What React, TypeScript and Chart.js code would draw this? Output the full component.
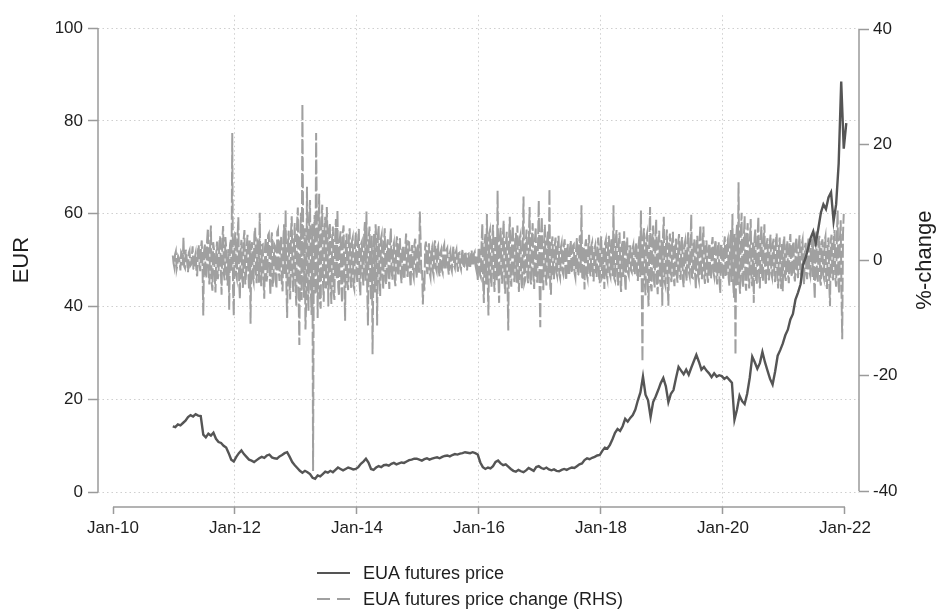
import React, { useEffect, useRef } from 'react';
import { Chart, registerables } from 'chart.js';

Chart.register(...registerables);

// ---- tick labels / axes ----
const xTickYears = [2010, 2012, 2014, 2016, 2018, 2020, 2022];
const xTickLabels = ['Jan-10', 'Jan-12', 'Jan-14', 'Jan-16', 'Jan-18', 'Jan-20', 'Jan-22'];
const leftTicks = [0, 20, 40, 60, 80, 100];
const rightTicks = [-40, -20, 0, 20, 40];

const seriesNames = ['EUA futures price', 'EUA futures price change (RHS)'];

// ---- EUA futures price (EUR), semi-monthly readings starting late Dec 2010 ----
const priceStart = 2010.98;
const priceStep = 1 / 24;
const price2011 = [14.2, 14.0, 14.6, 14.4, 14.9, 15.4, 16.2, 16.6, 16.3, 16.8, 16.5, 16.4, 12.4, 11.8, 12.6, 12.2, 12.8, 11.5, 10.8, 10.6, 10.0, 9.6, 8.4, 7.0];
const price2012 = [6.6, 7.6, 8.4, 9.0, 8.2, 7.6, 7.0, 6.8, 6.5, 6.9, 7.3, 7.6, 7.4, 7.9, 8.1, 7.5, 7.3, 7.2, 7.7, 8.0, 8.4, 8.6, 7.6, 6.5];
const price2013 = [5.8, 5.2, 4.6, 4.2, 4.6, 4.3, 3.9, 3.1, 2.9, 3.6, 3.4, 3.9, 4.4, 4.2, 4.6, 4.3, 4.8, 5.3, 5.0, 4.7, 5.0, 5.3, 5.1, 4.9];
const price2014 = [5.0, 5.4, 6.1, 6.6, 7.2, 6.4, 5.0, 4.8, 5.3, 5.6, 5.4, 5.8, 5.9, 5.7, 6.1, 6.3, 6.0, 6.2, 6.4, 6.3, 6.6, 6.9, 7.0, 7.2];
const price2015 = [7.2, 7.0, 6.8, 7.1, 7.3, 7.0, 7.2, 7.4, 7.5, 7.3, 7.6, 7.8, 7.9, 7.7, 8.0, 8.2, 8.1, 8.3, 8.4, 8.6, 8.5, 8.4, 8.6, 8.4];
const price2016 = [8.1, 6.4, 5.4, 5.0, 5.3, 5.1, 5.6, 6.5, 6.8, 6.2, 5.8, 6.0, 5.5, 5.0, 4.6, 4.4, 4.8, 4.5, 4.3, 4.7, 5.2, 4.9, 4.6, 5.4];
const price2017 = [5.6, 5.2, 5.0, 5.3, 4.9, 4.7, 4.9, 4.6, 4.5, 4.8, 5.0, 4.8, 5.1, 5.3, 5.2, 5.6, 6.0, 6.2, 6.9, 7.3, 7.1, 7.4, 7.6, 7.9];
const price2018 = [8.0, 8.9, 9.6, 9.4, 10.2, 11.4, 12.8, 13.6, 13.2, 14.2, 15.8, 15.2, 16.0, 16.6, 17.8, 19.8, 21.5, 24.9, 21.0, 19.8, 16.2, 19.4, 20.6, 22.0];
const price2019 = [23.5, 24.6, 22.8, 19.4, 21.2, 22.0, 24.6, 27.0, 26.2, 25.4, 26.4, 25.3, 26.8, 28.2, 29.6, 28.1, 26.4, 27.0, 26.2, 25.6, 24.8, 25.6, 24.9, 25.2];
const price2020 = [25.0, 24.4, 24.8, 24.2, 23.6, 15.6, 17.8, 20.8, 19.6, 19.0, 21.2, 24.6, 29.2, 28.0, 26.6, 27.8, 30.2, 28.0, 26.2, 24.4, 23.2, 26.0, 29.4, 30.6];
const price2021 = [32.0, 33.8, 35.0, 37.2, 38.4, 41.5, 43.0, 44.8, 49.0, 50.5, 52.6, 54.8, 56.2, 53.6, 56.8, 60.2, 62.0, 61.0, 63.5, 64.6, 58.4, 62.0, 70.8, 88.5, 74.0, 79.5];

// ---- price change (%), main readings every ~9 days starting late Dec 2010 ----
const changeStart = 2010.98;
const changeStep = 1 / 40;
const change2011a = [0.8, -1.2, 1.5, -0.9, 0.4, -1.8, 1.1, 3.9, -1.4, 0.6, -2.1, 1.7, -0.8, 2.4, -1.6, 1.2, -2.8, 2.6, -1.9, 3.4];
const change2011b = [-9.6, 2.8, -3.1, 5.5, -4.2, 6.0, -5.3, 1.9, -5.6, 3.2, -2.4, 4.1, -6.0, 5.9, -3.5, 2.2, -4.4, -8.6, 3.6, 22.0];
const change2012a = [-9.6, 4.8, -3.2, 7.4, -6.7, 3.5, -4.8, 5.2, -2.6, 4.4, -5.1, -11.0, 3.1, -3.8, 5.6, -4.0, 3.0, 8.2, -4.5, 2.7];
const change2012b = [-6.7, 3.9, -2.8, 4.6, -6.0, 4.8, -3.3, 2.5, -4.9, 5.3, -3.6, 4.0, -5.4, 6.2, 8.6, -10.0, 5.1, -6.8, 7.6, -5.5];
const change2013a = [6.4, -7.9, 9.1, -14.7, 8.2, 27.0, -6.5, -12.0, 12.7, -8.8, 10.4, -9.5, -36.5, 7.8, 22.0, -10.0, 11.5, -8.4, 9.6, -7.2];
const change2013b = [7.5, 9.2, -8.0, 6.4, -7.6, 5.8, -6.9, 7.1, 8.6, -6.2, 5.0, -7.4, 6.0, -10.5, 4.6, -5.2, 5.5, -4.8, 3.9, -5.0];
const change2014a = [4.8, -3.9, 5.4, -6.1, 3.2, -4.4, 6.6, 8.4, -11.3, 5.8, -7.0, -16.3, 4.5, 6.2, -11.3, 5.9, -6.2, 4.4, -5.1, 5.5];
const change2014b = [-4.2, 3.6, -5.0, 5.5, -3.4, 2.9, -4.5, 4.1, -2.7, 3.8, -4.0, 2.4, -3.3, 4.6, -2.9, 3.1, -4.6, 2.6, -3.0, 3.7];
const change2015a = [-3.1, 2.8, 8.4, -2.6, -7.7, -5.3, 3.2, -2.4, 2.9, -3.0, 2.2, -2.6, 3.4, -1.9, 2.5, -2.8, 1.8, -2.2, 2.7, -1.7];
const change2015b = [2.1, -2.5, 1.6, -1.9, 2.4, -1.4, 1.8, -2.0, 1.3, -1.6, 1.9, -1.2, 1.5, -1.8, 1.1, -1.4, 1.7, -1.0, 1.4, -1.6];
const change2016a = [-3.6, 2.2, -3.0, 6.3, -7.4, 4.5, 8.0, -9.6, 5.2, -4.6, 6.1, -5.5, 4.2, 12.0, -7.4, 5.6, -4.1, 6.8, -5.8, 4.9];
const change2016b = [-12.2, 7.5, -4.6, 5.9, -3.8, 4.7, 6.0, -5.5, 4.4, -4.9, 11.0, -3.6, 5.3, -4.0, 9.2, -4.2, 6.4, -5.0, 5.7, -3.9];
const change2017a = [10.3, -11.6, 7.5, -5.2, 6.1, -4.4, 5.0, 12.3, -6.0, 4.1, -3.3, 3.9, -2.7, 4.2, -3.1, 2.9, -2.4, 3.6, -3.5, 2.8];
const change2017b = [-2.6, 3.4, -2.2, 2.7, -3.0, 3.8, -2.5, 4.3, 9.5, -3.4, -5.1, 3.6, -3.2, 4.4, -2.8, 3.1, -3.7, 2.5, -2.9, 3.9];
const change2018a = [-4.0, 4.1, -2.6, -5.0, 3.5, -3.3, 4.2, -2.9, 3.8, 9.5, -3.6, 5.2, -4.4, 4.8, -5.5, 3.3, 5.0, -5.3, 3.9, -2.7];
const change2018b = [2.4, -2.1, 2.6, -2.5, 3.0, -3.6, 4.1, 8.6, -17.6, 5.5, -6.1, 4.6, -8.0, 9.2, -5.4, 6.0, -4.8, 7.0, -5.9, 5.1];
const change2019a = [-4.6, -7.9, 7.5, -4.4, 5.3, -7.9, 4.6, -3.8, 4.9, -4.5, 3.7, -3.9, 4.5, -3.4, 4.0, -4.7, 3.3, -3.6, 4.8, -2.9];
const change2019b = [7.9, -3.1, 3.6, -5.0, 4.2, -3.5, 6.0, -3.3, 5.8, -4.1, 3.4, -3.9, 2.9, -3.2, 4.0, -2.8, 3.5, -4.2, 3.1, -5.7];
const change2020a = [2.6, -3.4, 4.1, -2.7, 3.6, -4.4, 5.2, 8.0, -6.5, -16.4, 6.1, 13.5, -5.8, 8.2, -4.7, 7.6, -5.3, 6.4, -4.9, 7.1];
const change2020b = [-4.5, -7.4, 5.3, -4.1, 7.5, -4.9, 5.8, -3.6, 6.2, -4.3, 3.8, -3.5, 4.4, -3.0, 3.7, -3.8, 4.6, -4.9, 3.9, -5.0];
const change2021a = [-5.4, 4.1, -3.6, 3.3, -4.0, 4.5, -2.9, 3.2, -3.7, 3.9, -3.1, 4.3, -2.6, 3.5, -4.2, 3.0, -3.3, 4.0, -2.7, 3.6];
const change2021b = [4.6, -6.7, 5.1, -3.8, 4.2, -4.4, 3.6, -3.2, 4.1, -5.0, 3.9, -8.0, 4.4, -3.5, 5.2, -4.6, 8.6, -5.8, 6.9, -13.7, 8.0];

// ---- in-between readings (half a step after each main reading) ----
const mid2011a = [-0.5, 1.0, -1.6, 0.7, -0.3, 1.4, -0.9, -1.1, 1.8, -0.6, 1.3, -1.0, 0.9, -1.5, 0.5, -2.0, 1.6, -0.7, 2.2, -1.2];
const mid2011b = [1.5, -2.2, 3.4, -1.8, 2.6, -3.9, 3.1, -2.7, 1.2, -3.3, 2.9, -1.5, 3.6, -2.4, 4.0, -3.0, 1.9, 2.5, -2.1, -4.8];
const mid2012a = [3.0, -2.5, 4.1, -3.6, 1.8, -2.9, 3.7, -4.2, 2.3, -1.7, 3.4, 2.0, -3.1, 4.4, -2.2, 3.3, -3.9, -1.5, 2.6, -3.4];
const mid2012b = [2.2, -3.7, 4.3, -2.1, 3.0, -4.6, 2.8, -3.5, 4.9, -1.9, 3.2, -4.0, 3.6, -2.4, -4.5, 2.9, -3.8, 4.7, -2.6, 3.4];
const mid2013a = [-4.5, 6.2, -5.3, 3.8, -6.9, 4.7, 5.5, -7.1, -3.6, 7.4, -5.0, 6.3, 3.2, -6.0, 5.1, 4.4, -7.3, 6.6, -4.1, 5.8];
const mid2013b = [-4.9, 3.6, 5.1, -4.3, 3.9, -5.6, 4.4, -3.2, -4.7, 3.5, -4.1, 4.8, -3.4, 2.9, -3.8, 4.1, -3.0, 3.3, -4.4, 2.6];
const mid2014a = [-2.5, 3.3, -4.0, 2.8, -2.3, 4.5, -3.6, -4.8, 3.9, -3.0, 4.2, -2.7, -5.6, 3.1, 4.0, -3.4, 3.7, -2.9, 3.2, -3.6];
const mid2014b = [2.6, -2.4, 3.1, -2.0, 2.2, -3.3, 2.7, -1.9, 3.0, -2.5, 1.8, -2.9, 2.4, -2.1, 3.2, -2.6, 1.7, -2.3, 2.8, -1.8];
const mid2015a = [1.9, -2.2, 3.5, -1.7, -3.0, 2.4, -1.5, 2.0, -2.3, 1.6, -1.9, 2.6, -1.4, 2.1, -2.0, 1.3, -1.7, 2.2, -1.2, 1.8];
const mid2015b = [-1.3, 1.1, -1.4, 0.9, -1.0, 1.3, -0.8, 1.2, -1.1, 0.7, -1.3, 0.9, -0.6, 1.0, -1.2, 0.8, -0.7, 1.1, -0.9, 0.6];
const mid2016a = [1.8, -2.6, 2.9, -3.8, 3.1, -4.2, -3.3, 4.6, -3.0, 3.7, -2.8, 4.1, -3.5, -2.9, 3.9, -2.2, 4.4, -3.6, 3.0, -4.0];
const mid2016b = [3.6, -3.1, 4.2, -2.5, 3.4, -3.9, -2.8, 3.8, -3.3, 2.6, -4.1, 3.2, -2.9, 3.7, -3.4, 4.0, -2.6, 3.5, -3.0, 2.8];
const mid2017a = [-4.2, 4.6, -3.5, 3.0, -2.7, 3.6, -3.2, -4.4, 2.9, -2.4, 2.6, -2.1, 2.8, -2.5, 2.2, -1.9, 2.7, -2.3, 2.0, -2.6];
const mid2017b = [2.1, -1.8, 2.5, -2.3, 2.0, -2.6, 3.0, -2.2, -2.9, 2.4, 2.7, -2.5, 2.3, -2.0, 2.6, -2.4, 1.9, -2.1, 2.5, -2.8];
const mid2018a = [2.7, -3.0, 2.2, 2.9, -2.6, 3.1, -2.4, 3.3, -2.8, -3.2, 3.5, -2.7, 3.0, -3.4, 2.5, -2.9, -3.1, 2.8, -2.2, 2.4];
const mid2018b = [-1.8, 2.0, -1.9, 2.2, -2.4, 2.7, -2.9, -3.4, 4.0, -3.7, 3.9, -4.2, 3.6, -4.5, 3.8, -3.3, 4.1, -3.9, 3.4, -3.6];
const mid2019a = [3.5, 4.4, -3.8, 3.2, -3.6, 3.0, -2.9, 3.4, -3.1, 2.8, -2.7, 3.2, -2.5, 3.0, -3.3, 2.6, -2.4, 3.1, -2.2, 2.5];
const mid2019b = [-3.0, 2.6, -2.4, 3.1, -2.8, 3.5, -2.5, 3.3, -2.9, 2.4, -2.7, 2.2, -2.6, 2.8, -2.1, 2.5, -3.0, 2.3, -3.4, 2.7];
const mid2020a = [-2.0, 2.5, -2.9, 3.0, -3.1, 3.6, -3.8, -4.1, 4.5, 3.9, -4.3, -3.6, 4.7, -3.5, 4.2, -3.9, 4.4, -3.2, 3.8, -3.5];
const mid2020b = [3.2, 3.8, -3.4, 4.0, -3.1, 3.5, -2.9, 3.9, -3.3, 2.8, -2.6, 3.1, -2.4, 2.9, -2.7, 3.3, -3.0, 2.6, -3.5, 2.9];
const mid2021a = [3.0, -2.8, 2.5, -2.6, 3.1, -2.2, 2.4, -2.7, 2.9, -2.3, 2.6, -2.0, 2.8, -3.0, 2.2, -2.5, 2.7, -2.1, 2.4, -2.9];
const mid2021b = [-3.3, 3.6, -2.9, 3.1, -3.5, 2.8, -2.6, 3.4, -3.8, 2.9, -4.1, 3.3, -2.7, 3.9, -3.2, 4.4, -4.0, 3.7, -5.2, 4.5];

const priceValues = [
  ...price2011, ...price2012, ...price2013, ...price2014, ...price2015, ...price2016,
  ...price2017, ...price2018, ...price2019, ...price2020, ...price2021,
];
const changeValues = [
  ...change2011a, ...change2011b, ...change2012a, ...change2012b, ...change2013a, ...change2013b,
  ...change2014a, ...change2014b, ...change2015a, ...change2015b, ...change2016a, ...change2016b,
  ...change2017a, ...change2017b, ...change2018a, ...change2018b, ...change2019a, ...change2019b,
  ...change2020a, ...change2020b, ...change2021a, ...change2021b,
];
const midValues = [
  ...mid2011a, ...mid2011b, ...mid2012a, ...mid2012b, ...mid2013a, ...mid2013b,
  ...mid2014a, ...mid2014b, ...mid2015a, ...mid2015b, ...mid2016a, ...mid2016b,
  ...mid2017a, ...mid2017b, ...mid2018a, ...mid2018b, ...mid2019a, ...mid2019b,
  ...mid2020a, ...mid2020b, ...mid2021a, ...mid2021b,
];

const FONT = '"Liberation Sans", Arial, Helvetica, sans-serif';
const AXIS_COLOR = '#9a9a9a';
const GRID_COLOR = '#cfcfcf';
const TEXT_COLOR = '#1e1e1e';
const PRICE_COLOR = '#555555';
const CHANGE_COLOR = '#a0a0a0';

const overlayPlugin = {
  id: 'stataOverlay',
  afterDraw(chart: any) {
    const { ctx, chartArea, scales } = chart;
    const x = scales.x;
    const y = scales.y;
    const y1 = scales.y1;
    ctx.save();
    ctx.strokeStyle = AXIS_COLOR;
    ctx.lineWidth = 1.5;
    ctx.setLineDash([]);
    // left axis line
    ctx.beginPath();
    ctx.moveTo(chartArea.left, y.getPixelForValue(leftTicks[0]));
    ctx.lineTo(chartArea.left, y.getPixelForValue(leftTicks[leftTicks.length - 1]));
    ctx.stroke();
    // right axis line
    ctx.beginPath();
    ctx.moveTo(chartArea.right, y1.getPixelForValue(rightTicks[0]));
    ctx.lineTo(chartArea.right, y1.getPixelForValue(rightTicks[rightTicks.length - 1]));
    ctx.stroke();
    // bottom axis line
    ctx.beginPath();
    ctx.moveTo(x.getPixelForValue(xTickYears[0]), chartArea.bottom);
    ctx.lineTo(x.getPixelForValue(xTickYears[xTickYears.length - 1]), chartArea.bottom);
    ctx.stroke();

    // axis titles
    ctx.fillStyle = TEXT_COLOR;
    ctx.font = `22px ${FONT}`;
    ctx.textAlign = 'center';
    ctx.textBaseline = 'middle';
    const midL = (y.getPixelForValue(0) + y.getPixelForValue(100)) / 2;
    ctx.save();
    ctx.translate(22, midL);
    ctx.rotate(-Math.PI / 2);
    ctx.fillText('EUR', 0, 0);
    ctx.restore();
    const midR = (y1.getPixelForValue(-40) + y1.getPixelForValue(40)) / 2;
    ctx.save();
    ctx.translate(925, midR);
    ctx.rotate(-Math.PI / 2);
    ctx.fillText('%-change', 0, 0);
    ctx.restore();

    // legend
    const lx = 317;
    const rows = [573, 599];
    ctx.font = `18px ${FONT}`;
    ctx.textAlign = 'left';
    ctx.lineWidth = 2;
    ctx.strokeStyle = PRICE_COLOR;
    ctx.beginPath();
    ctx.moveTo(lx, rows[0]);
    ctx.lineTo(lx + 33, rows[0]);
    ctx.stroke();
    ctx.fillText(seriesNames[0], lx + 46, rows[0] + 1);
    ctx.strokeStyle = CHANGE_COLOR;
    ctx.setLineDash([13, 7]);
    ctx.beginPath();
    ctx.moveTo(lx, rows[1]);
    ctx.lineTo(lx + 33, rows[1]);
    ctx.stroke();
    ctx.setLineDash([]);
    ctx.fillText(seriesNames[1], lx + 46, rows[1] + 1);
    ctx.restore();
  },
};

export default function App() {
  const canvasRef = useRef<HTMLCanvasElement | null>(null);

  useEffect(() => {
    if (!canvasRef.current) return;
    const priceData = priceValues.map((v, i) => ({ x: priceStart + i * priceStep, y: v }));
    const changeData: { x: number; y: number }[] = [];
    changeValues.forEach((v, i) => {
      changeData.push({ x: changeStart + i * changeStep, y: v });
      if (i < midValues.length) {
        changeData.push({ x: changeStart + (i + 0.5) * changeStep, y: midValues[i] });
      }
    });
    const tickFont = { family: FONT, size: 17 };

    const chart = new Chart(canvasRef.current, {
      type: 'line',
      data: {
        datasets: [
          {
            label: seriesNames[0],
            data: priceData,
            yAxisID: 'y',
            borderColor: PRICE_COLOR,
            backgroundColor: PRICE_COLOR,
            borderWidth: 2.4,
            pointRadius: 0,
            tension: 0,
            order: 0,
          },
          {
            label: seriesNames[1],
            data: changeData,
            yAxisID: 'y1',
            borderColor: CHANGE_COLOR,
            backgroundColor: CHANGE_COLOR,
            borderWidth: 2,
            borderDash: [14, 3],
            pointRadius: 0,
            tension: 0,
            order: 1,
          },
        ],
      },
      options: {
        responsive: false,
        animation: false,
        parsing: false,
        layout: { padding: { top: 10, bottom: 64, left: 0, right: 0 } },
        plugins: {
          legend: { display: false },
          tooltip: { enabled: false },
          title: { display: false },
        },
        scales: {
          x: {
            type: 'linear',
            min: 2009.754,
            max: 2022.23,
            afterBuildTicks: (s: any) => {
              s.ticks = xTickYears.map((v) => ({ value: v }));
            },
            afterFit: (s: any) => {
              s.height = 40;
            },
            ticks: {
              autoSkip: false,
              maxRotation: 0,
              padding: 4,
              color: TEXT_COLOR,
              font: tickFont,
              callback: (_v: any, i: number) => xTickLabels[i],
            },
            grid: {
              color: (c: any) =>
                c.tick && (c.tick.value === xTickYears[0] || c.tick.value === xTickYears[xTickYears.length - 1])
                  ? 'rgba(0,0,0,0)'
                  : GRID_COLOR,
              lineWidth: 1,
              tickLength: 7,
              tickColor: AXIS_COLOR,
              tickWidth: 1.5,
              tickBorderDash: [],
            },
            border: { display: false, dash: [1.5, 3] },
          },
          y: {
            type: 'linear',
            position: 'left',
            min: -3.198,
            max: 102.77,
            afterBuildTicks: (s: any) => {
              s.ticks = leftTicks.map((v) => ({ value: v }));
            },
            afterFit: (s: any) => {
              s.width = 98;
            },
            ticks: { autoSkip: false, padding: 5, color: TEXT_COLOR, font: tickFont },
            grid: {
              color: GRID_COLOR,
              lineWidth: 1,
              tickLength: 10,
              tickColor: AXIS_COLOR,
              tickWidth: 1.5,
              tickBorderDash: [],
            },
            border: { display: false, dash: [1.5, 3] },
          },
          y1: {
            type: 'linear',
            position: 'right',
            min: -42.74,
            max: 42.4,
            afterBuildTicks: (s: any) => {
              s.ticks = rightTicks.map((v) => ({ value: v }));
            },
            afterFit: (s: any) => {
              s.width = 78;
            },
            ticks: { autoSkip: false, padding: 4, color: TEXT_COLOR, font: tickFont },
            grid: {
              drawOnChartArea: false,
              tickLength: 10,
              tickColor: AXIS_COLOR,
              tickWidth: 1.5,
              tickBorderDash: [],
            },
            border: { display: false },
          },
        },
      } as any,
      plugins: [overlayPlugin],
    });
    return () => chart.destroy();
  }, []);

  return (
    <div style={{ position: 'fixed', left: 0, top: 0, width: 937, height: 611, background: '#fff' }}>
      <canvas ref={canvasRef} width={937} height={611} style={{ display: 'block' }} />
    </div>
  );
}
